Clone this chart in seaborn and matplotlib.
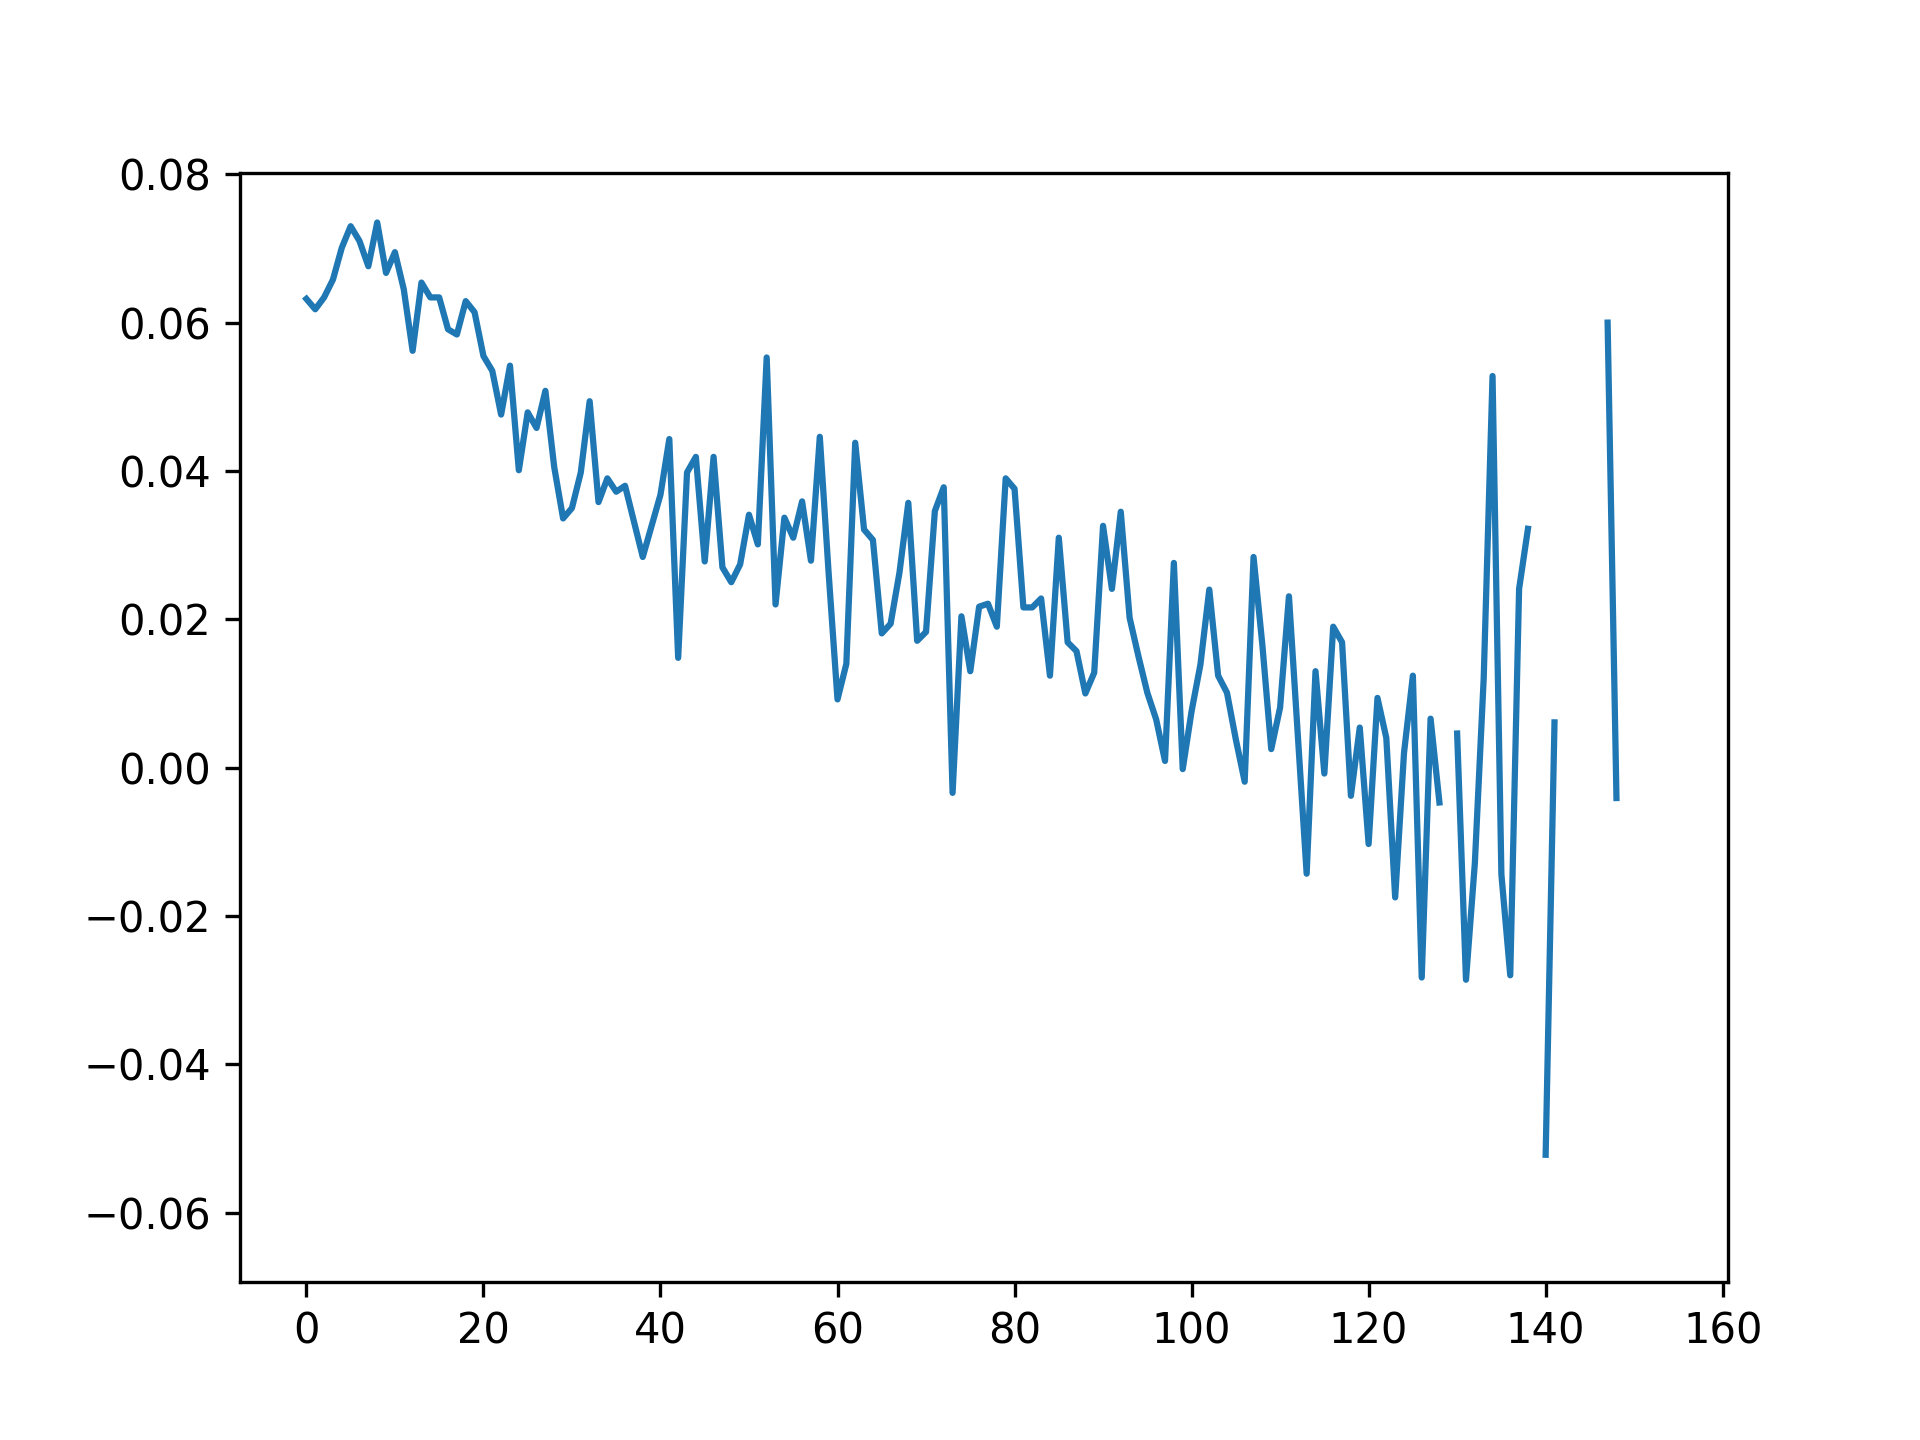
import numpy as np
import pandas as pd
import matplotlib
matplotlib.use("Agg")
import matplotlib.pyplot as plt
import seaborn as sns

values = [
    0.0632, 0.0618, 0.0634, 0.0658, 0.0701, 0.0730, 0.0710, 0.0676, 0.0735, 0.0667,
    0.0695, 0.0645, 0.0562, 0.0654, 0.0634, 0.0634, 0.0591, 0.0584, 0.0629, 0.0614,
    0.0555, 0.0535, 0.0476, 0.0542, 0.0401, 0.0479, 0.0458, 0.0508, 0.0405, 0.0336,
    0.0350, 0.0398, 0.0494, 0.0358, 0.0390, 0.0372, 0.0380, 0.0332, 0.0284, 0.0326,
    0.0368, 0.0443, 0.0148, 0.0398, 0.0419, 0.0278, 0.0419, 0.0270, 0.0250, 0.0274,
    0.0341, 0.0301, 0.0553, 0.0220, 0.0337, 0.0310, 0.0359, 0.0279, 0.0446, 0.0262,
    0.0092, 0.0140, 0.0438, 0.0321, 0.0307, 0.0181, 0.0194, 0.0263, 0.0357, 0.0171,
    0.0183, 0.0346, 0.0378, -0.0034, 0.0204, 0.0130, 0.0217, 0.0221, 0.0190, 0.0390,
    0.0376, 0.0216, 0.0216, 0.0228, 0.0124, 0.0310, 0.0169, 0.0157, 0.0100, 0.0128,
    0.0326, 0.0241, 0.0345, 0.0202, 0.0150, 0.0101, 0.0065, 0.0009, 0.0276, -0.0002,
    0.0076, 0.0139, 0.0240, 0.0124, 0.0101, 0.0038, -0.0019, 0.0284, 0.0165, 0.0025,
    0.0081, 0.0231, 0.0043, -0.0143, 0.0130, -0.0008, 0.0190, 0.0169, -0.0038, 0.0054,
    -0.0103, 0.0094, 0.0040, -0.0175, 0.0020, 0.0124, -0.0283, 0.0066, -0.0047, np.nan,
    0.0046, -0.0286, -0.0129, 0.0120, 0.0528, -0.0144, -0.0280, 0.0241, 0.0322, np.nan,
    -0.0522, 0.0061, np.nan, np.nan, np.nan, np.nan, np.nan, 0.0600, -0.0041,
]

x = np.arange(len(values))
y = np.array(values, dtype=float)
seg = np.cumsum(np.isnan(y))
df = pd.DataFrame({"x": x, "y": y, "seg": seg}).dropna()

fig, ax = plt.subplots(figsize=(6.4, 4.8), dpi=300)
sns.lineplot(data=df, x="x", y="y", units="seg", estimator=None,
             color="#1f77b4", linewidth=1.5, ax=ax, sort=True)
ax.set_xlabel("")
ax.set_ylabel("")
ax.set_xlim(-7.5, 160.6)
ax.set_ylim(-0.0693, 0.0802)
ax.set_xticks([0, 20, 40, 60, 80, 100, 120, 140, 160])
ax.set_yticks([-0.06, -0.04, -0.02, 0.0, 0.02, 0.04, 0.06, 0.08])
fig.savefig("out.png", dpi=300)
